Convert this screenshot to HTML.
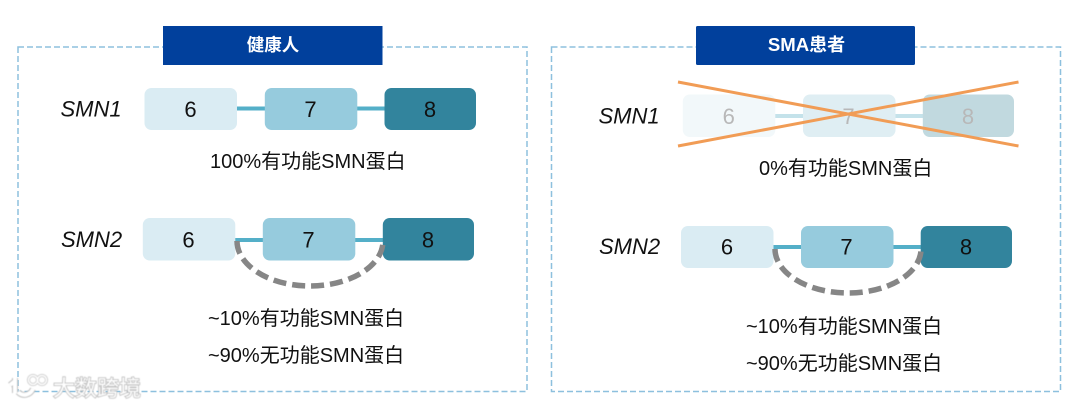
<!DOCTYPE html>
<html>
<head>
<meta charset="utf-8">
<style>
html,body{margin:0;padding:0;background:#fff;width:1080px;height:408px;overflow:hidden}
svg{display:block}
text{font-family:"Liberation Sans","Noto Sans CJK SC",sans-serif;fill:#111}
.n{font-size:22px;text-anchor:middle}
.g{font-size:22px;font-style:italic}
.l{font-size:20px}
.h{font-size:17.5px;font-weight:bold;fill:#fff;text-anchor:middle}
</style>
</head>
<body>
<svg width="1080" height="408" viewBox="0 0 1080 408" xmlns="http://www.w3.org/2000/svg">
<rect width="1080" height="408" fill="#fff"/>
<defs><filter id="b" x="-20%" y="-20%" width="140%" height="140%"><feGaussianBlur stdDeviation="0.5"/></filter></defs>

<!-- Left panel -->
<rect x="18" y="47" width="509" height="344.5" fill="none" stroke="#8dc0de" stroke-width="1.5" stroke-dasharray="6 3"/>
<rect x="163" y="26" width="219.500" height="39" fill="#01409c"/>
<text class="h" x="273" y="51">健康人</text>

<text class="g" x="60.500" y="116.500">SMN1</text>
<rect x="237" y="106.500" width="150" height="4" fill="#54afc8"/>
<rect x="144.500" y="88" width="92.500" height="42" rx="7" fill="#daecf3"/>
<rect x="264.800" y="88" width="92.500" height="42" rx="7" fill="#96cbdd"/>
<rect x="384.500" y="88" width="91.500" height="42" rx="7" fill="#32849d"/>
<text class="n" x="190.500" y="117">6</text>
<text class="n" x="310.500" y="117">7</text>
<text class="n" x="430" y="117">8</text>
<text class="l" x="210" y="168">100%有功能SMN蛋白</text>

<text class="g" x="61" y="247">SMN2</text>
<rect x="235" y="238" width="150" height="4" fill="#54afc8"/>
<rect x="142.800" y="218" width="92.500" height="42.500" rx="7" fill="#daecf3"/>
<rect x="262.800" y="218" width="92.500" height="42.500" rx="7" fill="#96cbdd"/>
<rect x="382.800" y="218" width="91.200" height="42.500" rx="7" fill="#32849d"/>
<text class="n" x="188.500" y="247.500">6</text>
<text class="n" x="308.500" y="247.500">7</text>
<text class="n" x="428" y="247.500">8</text>
<path d="M237 241 A73 45 0 0 0 383 241" fill="none" stroke="#868686" stroke-width="5.500" stroke-dasharray="13 6"/>
<text class="l" x="208" y="325">~10%有功能SMN蛋白</text>
<text class="l" x="208" y="362">~90%无功能SMN蛋白</text>

<!-- Right panel -->
<rect x="551.500" y="47" width="509" height="344.500" fill="none" stroke="#8dc0de" stroke-width="1.500" stroke-dasharray="6 3"/>
<rect x="696" y="26" width="219" height="39" rx="1.500" fill="#01409c"/>
<text class="h" x="806.500" y="51"><tspan style="font-size:18.600px">SMA</tspan><tspan style="font-size:18px">患者</tspan></text>

<text class="g" x="598.500" y="123.500">SMN1</text>
<rect x="775" y="114" width="150" height="4" fill="#c4e2ea"/>
<rect x="682.800" y="94.500" width="92.500" height="42.500" rx="7" fill="#f2f8fa"/>
<rect x="803" y="94.500" width="92.500" height="42.500" rx="7" fill="#dfeef3"/>
<rect x="922.800" y="94.500" width="91.200" height="42.500" rx="7" fill="#c1d9df"/>
<text class="n" x="728.700" y="124" style="fill:#b8b8b8">6</text>
<text class="n" x="848.500" y="124" style="fill:#b8b8b8">7</text>
<text class="n" x="968" y="124" style="fill:#b8b8b8">8</text>
<line x1="678" y1="82" x2="1018.500" y2="146" stroke="#f19c55" stroke-width="3"/>
<line x1="678" y1="146" x2="1018.500" y2="82" stroke="#f19c55" stroke-width="3"/>
<text class="l" x="759" y="175">0%有功能SMN蛋白</text>

<text class="g" x="599" y="254">SMN2</text>
<rect x="773" y="245" width="150" height="4" fill="#54afc8"/>
<rect x="681" y="226" width="92.500" height="42" rx="7" fill="#daecf3"/>
<rect x="801" y="226" width="92.500" height="42" rx="7" fill="#96cbdd"/>
<rect x="920.700" y="226" width="91.300" height="42" rx="7" fill="#32849d"/>
<text class="n" x="727" y="254.500">6</text>
<text class="n" x="846.500" y="254.500">7</text>
<text class="n" x="966" y="254.500">8</text>
<path d="M775 249 A73 44 0 0 0 921 249" fill="none" stroke="#868686" stroke-width="5.500" stroke-dasharray="13 6"/>
<text class="l" x="746" y="333">~10%有功能SMN蛋白</text>
<text class="l" x="746" y="370">~90%无功能SMN蛋白</text>

<!-- Watermark -->
<g filter="url(#b)">
<path d="M15 378 L15 393 M15 381 L10 385 M18 392 C23 397 30 395 33 389" fill="none" stroke="#bdbdbd" stroke-width="6"/>
<path d="M15 378 L15 393 M15 381 L10 385 M18 392 C23 397 30 395 33 389" fill="none" stroke="#fff" stroke-width="4"/>
<circle cx="33" cy="380" r="4.500" fill="none" stroke="#c4c4c4" stroke-width="3"/>
<circle cx="42" cy="380" r="4.500" fill="none" stroke="#c4c4c4" stroke-width="3"/>
<circle cx="33" cy="380" r="4.500" fill="none" stroke="#fff" stroke-width="1.500"/>
<circle cx="42" cy="380" r="4.500" fill="none" stroke="#fff" stroke-width="1.500"/>
<text x="53" y="396" style="font-size:22px;fill:#fff;stroke:#b5b5b5;stroke-width:1.500px;paint-order:stroke">大数跨境</text>
</g>
</svg>
</body>
</html>
